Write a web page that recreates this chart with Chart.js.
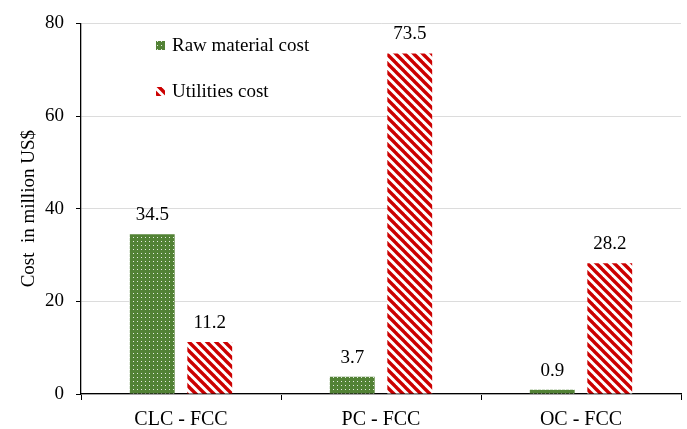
<!DOCTYPE html>
<html>
<head>
<meta charset="utf-8">
<script src="https://cdn.jsdelivr.net/npm/chart.js@4.4.0/dist/chart.umd.min.js"></script>
<style>
  html, body { margin: 0; padding: 0; background: #fff; }
  #wrap { width: 687px; height: 429px; }
</style>
</head>
<body>
<div id="wrap"><canvas id="costChart" width="687" height="429"></canvas></div>
<script>
const cases = ['CLC - FCC', 'PC - FCC', 'OC - FCC'];
const rawMaterial = [34.5, 3.7, 0.9];
const utilities = [11.2, 73.5, 28.2];
const yTicks = [0, 20, 40, 60, 80];

const FONT = 'Liberation Serif, Times New Roman, serif';

// green fill with a grid of small white dots
function dotPattern() {
  const c = document.createElement('canvas');
  c.width = 4; c.height = 4;
  const g = c.getContext('2d');
  g.fillStyle = '#528235';
  g.fillRect(0, 0, 4, 4);
  g.fillStyle = 'rgba(255,255,255,0.85)';
  g.fillRect(1, 1, 1, 1);
  return g.createPattern(c, 'repeat');
}

// white fill with red "\" stripes
function stripePattern() {
  const n = 9;
  const c = document.createElement('canvas');
  c.width = n; c.height = n;
  const g = c.getContext('2d');
  g.fillStyle = '#fff';
  g.fillRect(0, 0, n, n);
  g.strokeStyle = '#cc0000';
  g.lineWidth = 3.4;
  for (let k = -1; k <= 1; k++) {
    g.beginPath();
    g.moveTo(-2, -2 + k * n);
    g.lineTo(n + 2, n + 2 + k * n);
    g.stroke();
  }
  return g.createPattern(c, 'repeat');
}

const greenFill = dotPattern();
const redFill = stripePattern();

const valueLabels = {
  id: 'valueLabels',
  afterDatasetsDraw(chart) {
    const ctx = chart.ctx;
    ctx.save();
    ctx.font = '19px ' + FONT;
    ctx.fillStyle = '#000';
    ctx.textAlign = 'center';
    ctx.textBaseline = 'middle';
    chart.data.datasets.forEach((ds, i) => {
      chart.getDatasetMeta(i).data.forEach((bar, j) => {
        ctx.fillText(ds.data[j].toFixed(1), bar.x, bar.y - 19);
      });
    });
    ctx.restore();
  }
};

// legend sits inside the plot, stacked vertically
const insideLegend = {
  id: 'insideLegend',
  afterDraw(chart) {
    const ctx = chart.ctx;
    ctx.save();
    ctx.font = '19px ' + FONT;
    ctx.fillStyle = '#000';
    ctx.textBaseline = 'middle';
    chart.data.datasets.forEach((ds, i) => {
      const y = 46 + i * 46;
      ctx.fillStyle = ds.backgroundColor;
      ctx.fillRect(156, y - 5, 9, 9);
      ctx.fillStyle = '#000';
      ctx.fillText(ds.label, 172, y);
    });
    ctx.restore();
  }
};

new Chart(document.getElementById('costChart'), {
  type: 'bar',
  data: {
    labels: cases,
    datasets: [
      { label: 'Raw material cost', data: rawMaterial, backgroundColor: greenFill },
      { label: 'Utilities cost', data: utilities, backgroundColor: redFill }
    ]
  },
  options: {
    responsive: false,
    animation: false,
    layout: { padding: { top: 22, right: 6, bottom: 0, left: 0 } },
    datasets: { bar: { categoryPercentage: 0.575, barPercentage: 0.78 } },
    plugins: { legend: { display: false }, tooltip: { enabled: false } },
    scales: {
      x: {
        afterFit(scale) { scale.height = 35; },
        grid: { offset: true, drawOnChartArea: false, tickLength: 6, tickColor: '#000' },
        border: { color: '#000', width: 1.3 },
        ticks: { color: '#000', font: { family: FONT, size: 20 }, padding: 8 }
      },
      y: {
        min: 0, max: 80,
        afterFit(scale) { scale.width = 81; },
        afterBuildTicks(scale) { scale.ticks = yTicks.map(v => ({ value: v })); },
        grid: { color: '#dcdcdc', tickLength: 5, tickColor: '#000' },
        border: { color: '#000', width: 1.3 },
        ticks: { color: '#000', font: { family: FONT, size: 19 }, padding: 12 },
        title: {
          display: true,
          text: 'Cost  in million US$',
          color: '#000',
          font: { family: FONT, size: 19 },
          padding: { top: 18, bottom: 0 }
        }
      }
    }
  },
  plugins: [valueLabels, insideLegend]
});
</script>
</body>
</html>
